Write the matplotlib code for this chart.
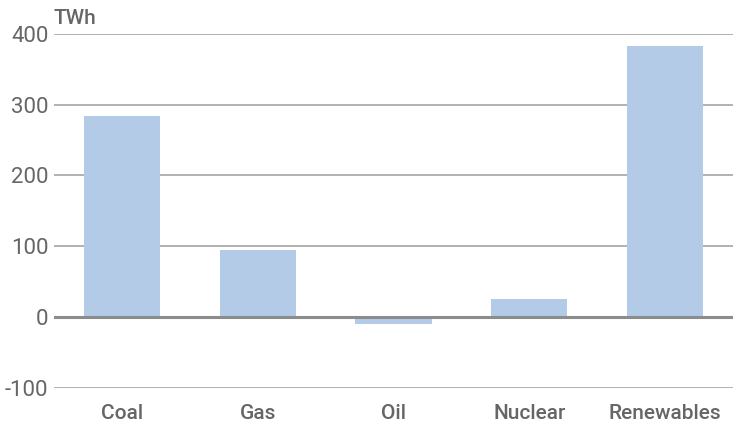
import matplotlib
matplotlib.use('Agg')
import matplotlib.pyplot as plt

categories = ['Coal', 'Gas', 'Oil', 'Nuclear', 'Renewables']
values = [284, 94, -10, 25, 383]
yticks = [-100, 0, 100, 200, 300, 400]

plt.rcParams['font.family'] = ['Roboto', 'DejaVu Sans']

fig = plt.figure(figsize=(7.33, 4.23), dpi=100)
ax = fig.add_axes([0.0737, 0.0839, 0.9263, 0.8357])

ax.bar(range(len(categories)), values, width=0.56, color='#b4cbe8', zorder=2)
for t in yticks:
    if t == 0:
        ax.axhline(t, color='#8c8c8c', lw=2.2, zorder=3)
    else:
        ax.axhline(t, color='#ababab', lw=1.3, zorder=1)

ax.set_xlim(-0.5, 4.5)
ax.set_ylim(-100, 400)
ax.set_yticks(yticks)
ax.set_yticklabels([str(t) for t in yticks], fontsize=16, color='#666666')
ax.set_xticks(range(len(categories)))
ax.set_xticklabels(categories, fontsize=15, color='#666666', fontweight='medium')
ax.tick_params(axis='both', length=0)
ax.tick_params(axis='y', pad=4)
ax.tick_params(axis='x', pad=12)
for s in ax.spines.values():
    s.set_visible(False)

fig.text(0.073, 0.957, 'TWh', fontsize=15, color='#666666', ha='left', va='center', fontweight='medium')

fig.savefig('out.png', dpi=100)
